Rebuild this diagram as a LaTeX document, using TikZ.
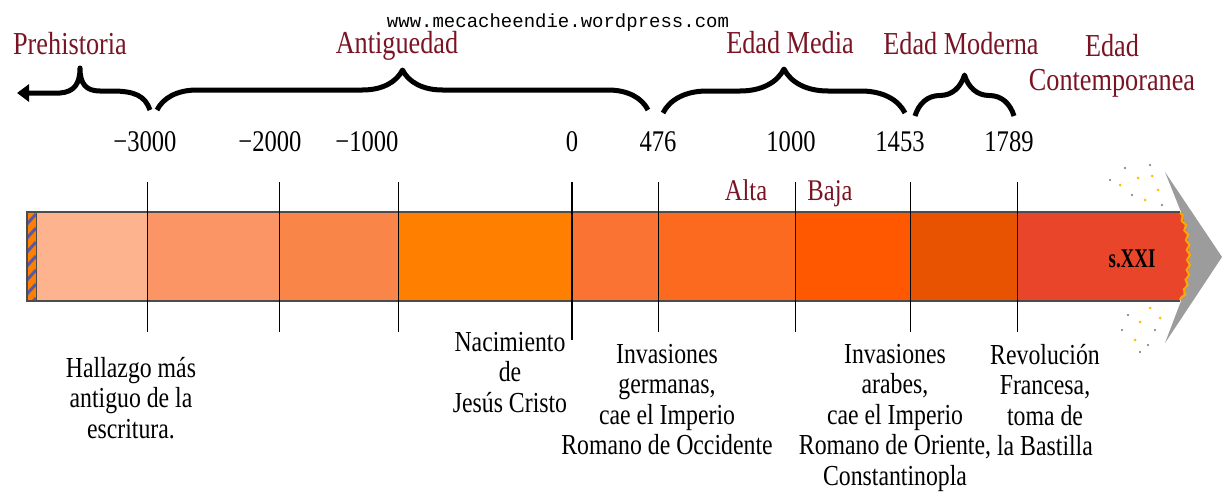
\documentclass[tikz,border=0pt]{standalone}
\usepackage{fontspec}
\setmainfont{Liberation Serif}[FakeStretch=0.82]
\newfontfamily\webfont{Liberation Mono}
\newfontfamily\narrowfont[FakeStretch=0.7]{Liberation Serif}
\usetikzlibrary{decorations.pathreplacing,decorations.pathmorphing,arrows.meta}

\definecolor{eraRed}{HTML}{7A1424}
\definecolor{segA}{HTML}{FDB48E}
\definecolor{segB}{HTML}{FB9565}
\definecolor{segC}{HTML}{F98548}
\definecolor{segD}{HTML}{FF8000}
\definecolor{segE}{HTML}{FB7333}
\definecolor{segF}{HTML}{FB6A1E}
\definecolor{segG}{HTML}{FF5800}
\definecolor{segH}{HTML}{E85302}
\definecolor{segI}{HTML}{E8452A}
\definecolor{tipGray}{HTML}{9C9C9C}

\tikzset{
  eralabel/.style={text=eraRed, font=\fontsize{32}{34}\selectfont, anchor=base, inner sep=0pt},
  yearlabel/.style={font=\fontsize{30}{32}\selectfont, anchor=base, inner sep=0pt},
  eventtext/.style={font=\fontsize{29}{30.5}\selectfont, align=center, anchor=north, inner sep=0pt},
  erabrace/.style={decorate, decoration={brace, amplitude=#1}, line width=5pt, line join=round},
  tickline/.style={line width=1pt},
}

\begin{document}
\begin{tikzpicture}[x=1pt,y=-1pt]
\useasboundingbox (0,0) rectangle (1222,495);

% the bar
\fill[tipGray] (1165,172) -- (1222,257) -- (1165,343) -- (1181,301) -- (1181,212) -- cycle;
\foreach \a/\b/\c in {36/147/segA, 147/279/segB, 279/398/segC, 398/572/segD, 572/658/segE, 658/795/segF, 795/910/segG, 910/1017/segH}
  \fill[\c] (\a,212) rectangle (\b,301);
\fill[segI] (1017,212) -- (1180,212) .. controls (1192,235) and (1192,278) .. (1180,301) -- (1017,301) -- cycle;
\begin{scope}
\clip (27,212) rectangle (36,301);
\fill[segD] (27,212) rectangle (36,301);
\foreach \y in {200,214,...,310} \draw[gray!70!blue, line width=3pt] (27,\y+10) -- (36,\y);
\end{scope}
\draw[black!70, line width=1.2pt] (1180,212) -- (27,212) -- (27,301) -- (1180,301);
\draw[black!70] (36,212) -- (36,301);
\draw[decorate, decoration={snake, amplitude=1.5pt, segment length=10pt}, orange!70!yellow, line width=2pt] (1180,213) .. controls (1190,235) and (1190,278) .. (1180,300);
\foreach \x/\y in {1125/168, 1150/165, 1132/195, 1162/205, 1110/180, 1128/315, 1155/330, 1148/345, 1122/330, 1140/352}
  \fill[black!55] (\x,\y) circle (1.2);
\foreach \x/\y in {1138/178, 1158/190, 1145/200, 1120/185, 1152/176, 1140/322, 1135/340, 1160/318, 1150/308}
  \fill[orange!50!yellow] (\x,\y) circle (1.5);

% ticks
\foreach \x in {147,279,398,658,795,910,1017} \draw[tickline] (\x,182) -- (\x,332);
\draw[line width=2.2pt] (572,182) -- (572,340);

% years
\node[yearlabel] (y3000) at (145,151) {−3000};
\node[yearlabel] (y2000) at (270,151) {−2000};
\node[yearlabel] (y1000) at (367,151) {−1000};
\node[yearlabel] (y0) at (572,151) {0};
\node[yearlabel] (y476) at (658,151) {476};
\node[yearlabel] (yk) at (791,151) {1000};
\node[yearlabel] (y1453) at (900,151) {1453};
\node[yearlabel] (y1789) at (1009,151) {1789};

% ages
\node[font=\webfont\fontsize{19}{20}\selectfont, anchor=base, inner sep=0pt] (web) at (558,28) {www.mecacheendie.wordpress.com};
\node[eralabel] (prehist) at (70,55) {Prehistoria};
\node[eralabel] (antig) at (397,53) {Antiguedad};
\node[eralabel] (media) at (790,54) {Edad Media};
\node[eralabel] (moderna) at (961,55) {Edad Moderna};
\node[eralabel, anchor=north, align=center] (contemp) at (1112,34) {Edad\\Contemporanea};
\node[eralabel, font=\fontsize{30}{32}\selectfont] (alta) at (746,200) {Alta};
\node[eralabel, font=\fontsize{30}{32}\selectfont] (baja) at (830,200) {Baja};
\node[yearlabel, font=\narrowfont\bfseries\fontsize{27}{28}\selectfont] (sxxi) at (1132,267) {s.XXI};

% braces
\coordinate (preR) at (150,110); \coordinate (preL) at (17,93);
\coordinate (antL) at (157,110); \coordinate (antR) at (648,110);
\coordinate (medL) at (663,113); \coordinate (medR) at (905,113);
\coordinate (modL) at (915,116); \coordinate (modR) at (1014,116);
\draw[line width=5pt, line join=round, -{Triangle[length=12pt,width=17pt]}] (preR) .. controls (145,96) and (135,91) .. (112,91) -- (100,91) .. controls (86,91) and (80,84) .. (80,68) .. controls (80,84) and (74,92) .. (60,93) -- (preL);
\draw[erabrace=40pt] (antL) -- (antR);
\draw[erabrace=44pt] (medL) -- (medR);
\draw[erabrace=41pt] (modL) -- (modR);

% events
\node[eventtext] (hallazgo) at (131,357) {Hallazgo más\\antiguo de la\\escritura.};
\node[eventtext] (nacim) at (510,332) {Nacimiento\\de\\Jesús Cristo};
\node[eventtext] (germ) at (667,344) {Invasiones\\germanas,\\cae el Imperio\\Romano de Occidente};
\node[eventtext] (arab) at (895,344) {Invasiones\\arabes,\\cae el Imperio\\Romano de Oriente,\\Constantinopla};
\node[eventtext] (revol) at (1045,344) {Revolución\\Francesa,\\toma de\\la Bastilla};
\end{tikzpicture}
\end{document}
